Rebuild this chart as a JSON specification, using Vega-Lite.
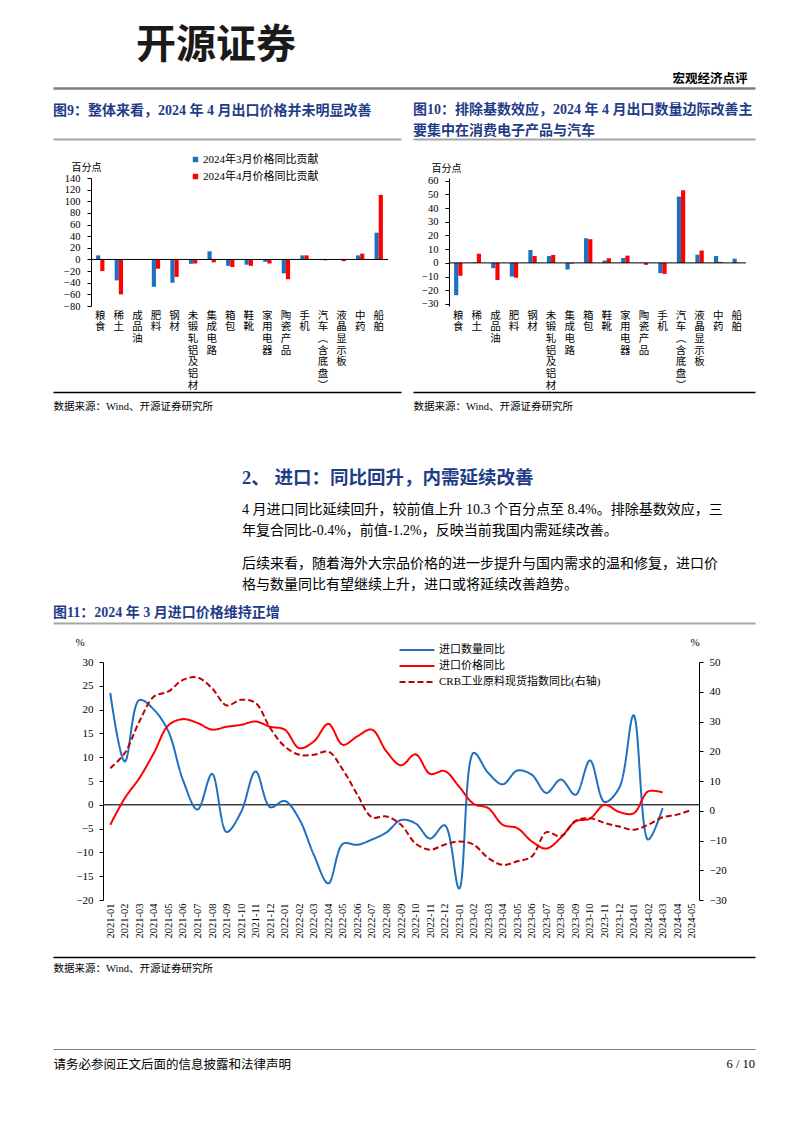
{
  "$schema": "https://vega.github.io/schema/vega-lite/v6.json",
  "background": "white",
  "padding": {"left": 50, "right": 50, "top": 26, "bottom": 10},
  "spacing": 0,
  "datasets": {
    "c9": [
      {"cat": "粮食", "m3": 7, "m4": -20},
      {"cat": "稀土", "m3": -36, "m4": -60},
      {"cat": "成品油", "m3": 0.3, "m4": -0.5},
      {"cat": "肥料", "m3": -47, "m4": -16},
      {"cat": "钢材", "m3": -40, "m4": -30},
      {"cat": "未锻轧铝及铝材", "m3": -7.5, "m4": -7},
      {"cat": "集成电路", "m3": 14, "m4": -5},
      {"cat": "箱包", "m3": -11, "m4": -13},
      {"cat": "鞋靴", "m3": -9, "m4": -11},
      {"cat": "家用电器", "m3": -4, "m4": -7},
      {"cat": "陶瓷产品", "m3": -24, "m4": -34},
      {"cat": "手机", "m3": 7, "m4": 7},
      {"cat": "汽车（含底盘）", "m3": 0.3, "m4": -1.5},
      {"cat": "液晶显示板", "m3": 0.2, "m4": -3},
      {"cat": "中药", "m3": 7, "m4": 10},
      {"cat": "船舶", "m3": 46, "m4": 111}
    ],
    "c10": [
      {"cat": "粮食", "m3": -23.6, "m4": -9.4},
      {"cat": "稀土", "m3": 0.4, "m4": 6.7},
      {"cat": "成品油", "m3": -3.9, "m4": -12.5},
      {"cat": "肥料", "m3": -10, "m4": -10.8},
      {"cat": "钢材", "m3": 9.4, "m4": 5},
      {"cat": "未锻轧铝及铝材", "m3": 5, "m4": 5.8},
      {"cat": "集成电路", "m3": -4.8, "m4": -0.5},
      {"cat": "箱包", "m3": 18, "m4": 17.3},
      {"cat": "鞋靴", "m3": 1.7, "m4": 3.4},
      {"cat": "家用电器", "m3": 3.6, "m4": 5.3},
      {"cat": "陶瓷产品", "m3": 0.2, "m4": -1.4},
      {"cat": "手机", "m3": -7.5, "m4": -8},
      {"cat": "汽车（含底盘）", "m3": 48.4, "m4": 53},
      {"cat": "液晶显示板", "m3": 6, "m4": 9},
      {"cat": "中药", "m3": 5, "m4": 0.7},
      {"cat": "船舶", "m3": 3.1, "m4": 0.2}
    ],
    "imp": [
      {"month": "2021-01", "进口数量同比": 23.5, "进口价格同比": -4.2},
      {"month": "2021-02", "进口数量同比": 9.1, "进口价格同比": 1.4},
      {"month": "2021-03", "进口数量同比": 22, "进口价格同比": 5.6},
      {"month": "2021-04", "进口数量同比": 20, "进口价格同比": 10.9},
      {"month": "2021-05", "进口数量同比": 15.4, "进口价格同比": 16.7},
      {"month": "2021-06", "进口数量同比": 5.2, "进口价格同比": 18},
      {"month": "2021-07", "进口数量同比": -1, "进口价格同比": 17.2},
      {"month": "2021-08", "进口数量同比": 6.5, "进口价格同比": 15.8},
      {"month": "2021-09", "进口数量同比": -5.7, "进口价格同比": 16.4},
      {"month": "2021-10", "进口数量同比": -1.5, "进口价格同比": 16.8},
      {"month": "2021-11", "进口数量同比": 7, "进口价格同比": 17.5},
      {"month": "2021-12", "进口数量同比": -0.5, "进口价格同比": 16.4},
      {"month": "2022-01", "进口数量同比": 0.8, "进口价格同比": 15.8},
      {"month": "2022-02", "进口数量同比": -3, "进口价格同比": 11.9},
      {"month": "2022-03", "进口数量同比": -10.5, "进口价格同比": 13.3},
      {"month": "2022-04", "进口数量同比": -16.5, "进口价格同比": 17},
      {"month": "2022-05", "进口数量同比": -8.2, "进口价格同比": 12.6},
      {"month": "2022-06", "进口数量同比": -8.4, "进口价格同比": 14.4},
      {"month": "2022-07", "进口数量同比": -7.3, "进口价格同比": 15.8},
      {"month": "2022-08", "进口数量同比": -5.8, "进口价格同比": 11.2},
      {"month": "2022-09", "进口数量同比": -3.2, "进口价格同比": 8.3},
      {"month": "2022-10", "进口数量同比": -3.9, "进口价格同比": 10.6},
      {"month": "2022-11", "进口数量同比": -7.1, "进口价格同比": 6.5},
      {"month": "2022-12", "进口数量同比": -4.3, "进口价格同比": 7.1},
      {"month": "2023-01", "进口数量同比": -17.6, "进口价格同比": 3.8},
      {"month": "2023-02", "进口数量同比": 10.9, "进口价格同比": 0.2},
      {"month": "2023-03", "进口数量同比": 6.7, "进口价格同比": -0.7},
      {"month": "2023-04", "进口数量同比": 4.3, "进口价格同比": -4.2},
      {"month": "2023-05", "进口数量同比": 7.2, "进口价格同比": -4.9},
      {"month": "2023-06", "进口数量同比": 6.3, "进口价格同比": -7.7},
      {"month": "2023-07", "进口数量同比": 2.5, "进口价格同比": -9.2},
      {"month": "2023-08", "进口数量同比": 5.3, "进口价格同比": -6.9},
      {"month": "2023-09", "进口数量同比": 2.1, "进口价格同比": -3.5},
      {"month": "2023-10", "进口数量同比": 9.3, "进口价格同比": -2.9},
      {"month": "2023-11", "进口数量同比": 0.6, "进口价格同比": 0},
      {"month": "2023-12", "进口数量同比": 3.5, "进口价格同比": -1.5},
      {"month": "2024-01", "进口数量同比": 18.8, "进口价格同比": -1.8},
      {"month": "2024-02", "进口数量同比": -7.3, "进口价格同比": 2.8},
      {"month": "2024-03", "进口数量同比": -0.7, "进口价格同比": 2.6}
    ],
    "crb": [
      {"month": "2021-01", "CRB工业原料现货指数同比(右轴)": 14.3},
      {"month": "2021-02", "CRB工业原料现货指数同比(右轴)": 19.4},
      {"month": "2021-03", "CRB工业原料现货指数同比(右轴)": 30},
      {"month": "2021-04", "CRB工业原料现货指数同比(右轴)": 38.4},
      {"month": "2021-05", "CRB工业原料现货指数同比(右轴)": 40.1},
      {"month": "2021-06", "CRB工业原料现货指数同比(右轴)": 44},
      {"month": "2021-07", "CRB工业原料现货指数同比(右轴)": 44.8},
      {"month": "2021-08", "CRB工业原料现货指数同比(右轴)": 41.2},
      {"month": "2021-09", "CRB工业原料现货指数同比(右轴)": 35.4},
      {"month": "2021-10", "CRB工业原料现货指数同比(右轴)": 37.3},
      {"month": "2021-11", "CRB工业原料现货指数同比(右轴)": 36.2},
      {"month": "2021-12", "CRB工业原料现货指数同比(右轴)": 27.8},
      {"month": "2022-01", "CRB工业原料现货指数同比(右轴)": 21.6},
      {"month": "2022-02", "CRB工业原料现货指数同比(右轴)": 18.8},
      {"month": "2022-03", "CRB工业原料现货指数同比(右轴)": 18.8},
      {"month": "2022-04", "CRB工业原料现货指数同比(右轴)": 19.9},
      {"month": "2022-05", "CRB工业原料现货指数同比(右轴)": 13.8},
      {"month": "2022-06", "CRB工业原料现货指数同比(右轴)": 5.4},
      {"month": "2022-07", "CRB工业原料现货指数同比(右轴)": -2.2},
      {"month": "2022-08", "CRB工业原料现货指数同比(右轴)": -1.9},
      {"month": "2022-09", "CRB工业原料现货指数同比(右轴)": -4.7},
      {"month": "2022-10", "CRB工业原料现货指数同比(右轴)": -11},
      {"month": "2022-11", "CRB工业原料现货指数同比(右轴)": -13.1},
      {"month": "2022-12", "CRB工业原料现货指数同比(右轴)": -11.4},
      {"month": "2023-01", "CRB工业原料现货指数同比(右轴)": -10.3},
      {"month": "2023-02", "CRB工业原料现货指数同比(右轴)": -11.4},
      {"month": "2023-03", "CRB工业原料现货指数同比(右轴)": -15.9},
      {"month": "2023-04", "CRB工业原料现货指数同比(右轴)": -18.2},
      {"month": "2023-05", "CRB工业原料现货指数同比(右轴)": -17},
      {"month": "2023-06", "CRB工业原料现货指数同比(右轴)": -15.4},
      {"month": "2023-07", "CRB工业原料现货指数同比(右轴)": -7.2},
      {"month": "2023-08", "CRB工业原料现货指数同比(右轴)": -8.6},
      {"month": "2023-09", "CRB工业原料现货指数同比(右轴)": -3.4},
      {"month": "2023-10", "CRB工业原料现货指数同比(右轴)": -2.5},
      {"month": "2023-11", "CRB工业原料现货指数同比(右轴)": -4.1},
      {"month": "2023-12", "CRB工业原料现货指数同比(右轴)": -5.3},
      {"month": "2024-01", "CRB工业原料现货指数同比(右轴)": -6.4},
      {"month": "2024-02", "CRB工业原料现货指数同比(右轴)": -4.7},
      {"month": "2024-03", "CRB工业原料现货指数同比(右轴)": -2.2},
      {"month": "2024-04", "CRB工业原料现货指数同比(右轴)": -1.3},
      {"month": "2024-05", "CRB工业原料现货指数同比(右轴)": 0.3}
    ]
  },
  "vconcat": [
    {
      "width": 702, "height": 15,
      "data": {"values": [{}]},
      "mark": {"type": "rule", "strokeOpacity": 0},
      "encoding": {"x": {"datum": 0, "type": "quantitative", "scale": {"domain": [0, 1]},
        "axis": {"orient": "top", "domainColor": "#7F7F7F", "domainWidth": 2.5, "ticks": false, "labels": false, "grid": false,
          "title": "宏观经济点评", "titleX": 694, "titleAlign": "right", "titleFontSize": 12.5, "titleFontWeight": "bold", "titleFont": "Noto Sans CJK SC", "titleColor": "#000", "titlePadding": 3}}},
      "title": {"text": "开源证券", "fontSize": 40, "color": "#1a1a1a", "dx": 83, "offset": 6, "font": "Noto Sans CJK SC", "fontWeight": "bold"}
    },
    {
      "bounds": "flush", "spacing": 12,
      "hconcat": [
        {
          "width": 348, "height": 23,
          "data": {"values": [{}]},
          "mark": {"type": "rule", "strokeOpacity": 0},
          "encoding": {"x": {"datum": 0, "type": "quantitative", "scale": {"domain": [0, 1]},
            "axis": {"orient": "top", "domainColor": "#A6A6A6", "domainWidth": 2, "ticks": false, "labels": false, "grid": false, "title": null}}},
          "title": {"text": "图9：整体来看，2024 年 4 月出口价格并未明显改善", "fontSize": 14, "offset": 21}
        },
        {
          "width": 342, "height": 23,
          "data": {"values": [{}]},
          "mark": {"type": "rule", "strokeOpacity": 0},
          "encoding": {"x": {"datum": 0, "type": "quantitative", "scale": {"domain": [0, 1]},
            "axis": {"orient": "top", "domainColor": "#A6A6A6", "domainWidth": 2, "ticks": false, "labels": false, "grid": false, "title": null}}},
          "title": {"text": ["图10：排除基数效应，2024 年 4 月出口数量边际改善主", "要集中在消费电子产品与汽车"], "fontSize": 14, "lineHeight": 21, "offset": 1}
        }
      ]
    },
    {
      "bounds": "flush", "spacing": 0,
      "hconcat": [
        {"width": 38, "height": 213, "data": {"values": [{}]}, "mark": {"type": "point", "opacity": 0}, "encoding": {}},
        {
          "width": 297, "height": 128,
          "layer": [
            {
              "data": {"name": "c9"},
              "transform": [{"fold": ["m3", "m4"], "as": ["series", "value"]}],
              "mark": {"type": "bar"},
              "encoding": {
                "x": {"field": "cat", "type": "nominal", "sort": null, "scale": {"paddingInner": 0.55, "paddingOuter": 0.275},
                  "axis": {"title": null, "domain": false, "ticks": false, "labelAngle": 0, "labelAlign": "center", "labelBaseline": "top", "labelPadding": 4, "labelFontSize": 10.5, "labelFont": "Noto Sans CJK SC", "labelLineHeight": 11.7, "labelOverlap": false,
                    "labelExpr": "split(replace(replace(datum.label,'（','︵'),'）','︶'),'')"}},
                "xOffset": {"field": "series", "type": "nominal"},
                "y": {"field": "value", "type": "quantitative", "scale": {"domain": [-80, 140], "nice": false},
                  "axis": {"values": [-80, -60, -40, -20, 0, 20, 40, 60, 80, 100, 120, 140], "tickCount": 30, "labelOverlap": {"signal": "false"}, "title": "百分点", "titleAngle": 0, "titleAlign": "left", "titleBaseline": "middle", "titleX": -20, "titleY": -11, "titleFontSize": 10, "titleFont": "Noto Sans CJK SC", "labelFontSize": 10.5, "tickSize": 4, "labelPadding": 7}},
                "color": {"field": "series", "type": "nominal", "scale": {"domain": ["m3", "m4"], "range": ["#1F70C1", "#FF0000"]},
                  "legend": {"orient": "none", "legendX": 137, "legendY": 66, "title": null, "symbolType": "square", "symbolSize": 30, "labelFontSize": 11, "rowPadding": 5, "labelOffset": 2, "padding": 0, "labelLimit": 300,
                    "labelExpr": "datum.label === 'm3' ? '2024年3月价格同比贡献' : '2024年4月价格同比贡献'"}}
              }
            },
            {"data": {"values": [{}]}, "mark": {"type": "rule", "color": "#000", "strokeWidth": 1}, "encoding": {"y": {"datum": 0, "type": "quantitative"}}}
          ]
        },
        {"width": 61, "height": 213, "data": {"values": [{}]}, "mark": {"type": "point", "opacity": 0}, "encoding": {}},
        {
          "width": 297, "height": 128,
          "layer": [
            {
              "data": {"name": "c10"},
              "transform": [{"fold": ["m3", "m4"], "as": ["series10", "value"]}],
              "mark": {"type": "bar"},
              "encoding": {
                "x": {"field": "cat", "type": "nominal", "sort": null, "scale": {"paddingInner": 0.55, "paddingOuter": 0.275},
                  "axis": {"title": null, "domain": false, "ticks": false, "labelAngle": 0, "labelAlign": "center", "labelBaseline": "top", "labelPadding": 4, "labelFontSize": 10.5, "labelFont": "Noto Sans CJK SC", "labelLineHeight": 11.7, "labelOverlap": false,
                    "labelExpr": "split(replace(replace(datum.label,'（','︵'),'）','︶'),'')"}},
                "xOffset": {"field": "series10", "type": "nominal"},
                "y": {"field": "value", "type": "quantitative", "scale": {"domain": [-31.46, 61.97], "nice": false},
                  "axis": {"values": [-30, -20, -10, 0, 10, 20, 30, 40, 50, 60], "tickCount": 30, "labelOverlap": {"signal": "false"}, "title": "百分点", "titleAngle": 0, "titleAlign": "left", "titleBaseline": "middle", "titleX": -18, "titleY": -10, "titleFontSize": 10, "titleFont": "Noto Sans CJK SC", "labelFontSize": 10.5, "tickSize": 4, "labelPadding": 7}},
                "fill": {"field": "series10", "type": "nominal", "scale": {"domain": ["m3", "m4"], "range": ["#1F70C1", "#FF0000"]},
                  "legend": {"orient": "none", "legendX": 447, "legendY": 69.3, "title": null, "symbolType": "square", "symbolSize": 30, "labelFontSize": 11, "rowPadding": 8.4, "labelOffset": 2, "padding": 0, "labelLimit": 300,
                    "labelExpr": "datum.label === 'm3' ? '2024年3月数量三年复合同比贡献' : '2024年4月数量三年复合同比贡献'"}}
              }
            },
            {"data": {"values": [{}]}, "mark": {"type": "rule", "color": "#000", "strokeWidth": 1}, "encoding": {"y": {"datum": 0, "type": "quantitative"}}}
          ]
        }
      ]
    },
    {
      "bounds": "flush", "spacing": 12,
      "hconcat": [
        {
          "width": 348, "height": 1,
          "data": {"values": [{}]},
          "mark": {"type": "rule", "strokeOpacity": 0},
          "encoding": {"x": {"datum": 0, "type": "quantitative", "scale": {"domain": [0, 1]},
            "axis": {"orient": "bottom", "domainColor": "#000", "domainWidth": 1.5, "ticks": false, "labels": false, "grid": false,
              "title": "数据来源：Wind、开源证券研究所", "titleX": 0, "titleAlign": "left", "titleFontSize": 10.5, "titleFontWeight": "normal", "titleColor": "#000", "titlePadding": 9.5}}}
        },
        {
          "width": 342, "height": 1,
          "data": {"values": [{}]},
          "mark": {"type": "rule", "strokeOpacity": 0},
          "encoding": {"x": {"datum": 0, "type": "quantitative", "scale": {"domain": [0, 1]},
            "axis": {"orient": "bottom", "domainColor": "#000", "domainWidth": 1.5, "ticks": false, "labels": false, "grid": false,
              "title": "数据来源：Wind、开源证券研究所", "titleX": 0, "titleAlign": "left", "titleFontSize": 10.5, "titleFontWeight": "normal", "titleColor": "#000", "titlePadding": 9.5}}}
        }
      ]
    },
    {"width": 1, "height": 55.2, "data": {"values": [{}]}, "mark": {"type": "point", "opacity": 0}, "encoding": {}},
    {
      "width": 702, "height": 18.7,
      "data": {"values": [{}]}, "mark": {"type": "point", "opacity": 0}, "encoding": {},
      "title": {"text": "2、 进口：同比回升，内需延续改善", "fontSize": 18.5, "offset": 0, "dx": 189,
        "subtitle": ["　　4 月进口同比延续回升，较前值上升 10.3 个百分点至 8.4%。排除基数效应，三", "年复合同比-0.4%，前值-1.2%，反映当前我国内需延续改善。"],
        "subtitleFont": "Liberation Serif, Noto Sans CJK SC", "subtitleFontSize": 14, "subtitleColor": "#000", "subtitleLineHeight": 21, "subtitlePadding": 16}
    },
    {
      "width": 702, "height": 13.7,
      "data": {"values": [{}]}, "mark": {"type": "point", "opacity": 0}, "encoding": {},
      "title": {"text": ["　　后续来看，随着海外大宗品价格的进一步提升与国内需求的温和修复，进口价", "格与数量同比有望继续上升，进口或将延续改善趋势。"],
        "font": "Liberation Serif, Noto Sans CJK SC", "fontSize": 14, "fontWeight": "normal", "color": "#000", "lineHeight": 21, "offset": 0, "dx": 189}
    },
    {
      "width": 702, "height": 13,
      "data": {"values": [{}]},
      "mark": {"type": "rule", "strokeOpacity": 0},
      "encoding": {"x": {"datum": 0, "type": "quantitative", "scale": {"domain": [0, 1]},
        "axis": {"orient": "top", "domainColor": "#A6A6A6", "domainWidth": 2, "ticks": false, "labels": false, "grid": false, "title": null}}},
      "title": {"text": "图11：2024 年 3 月进口价格维持正增", "fontSize": 14, "offset": 3}
    },
    {
      "bounds": "flush", "spacing": 0,
      "hconcat": [
        {"width": 50, "height": 294, "data": {"values": [{}]}, "mark": {"type": "point", "opacity": 0}, "encoding": {}},
        {
          "width": 596, "height": 238,
          "layer": [
            {
              "layer": [
                {"data": {"values": [{}]}, "mark": {"type": "rule", "color": "#404040", "strokeWidth": 1.5}, "encoding": {"y": {"datum": 0, "type": "quantitative"}}},
                {
                  "data": {"name": "imp"},
                  "transform": [{"fold": ["进口数量同比", "进口价格同比"], "as": ["series", "value"]}],
                  "mark": {"type": "line", "interpolate": "catmull-rom", "strokeWidth": 2},
                  "encoding": {
                    "x": {"field": "month", "type": "ordinal", "scale": {"type": "point", "padding": 0.5},
                      "axis": {"title": null, "labelAngle": -90, "labelFontSize": 10.5, "labelPadding": 3, "ticks": false, "domain": false, "labelOverlap": false}},
                    "y": {"field": "value", "type": "quantitative", "scale": {"domain": [-20, 30], "nice": false},
                      "axis": {"orient": "left", "values": [-20, -15, -10, -5, 0, 5, 10, 15, 20, 25, 30], "tickCount": 30, "labelOverlap": {"signal": "false"}, "title": "%", "titleAngle": 0, "titleAlign": "left", "titleBaseline": "middle", "titleX": -28, "titleY": -20, "titleFont": "Liberation Serif", "titleFontSize": 11, "labelFontSize": 11, "tickSize": 4, "labelPadding": 6}},
                    "stroke": {"field": "series", "type": "nominal", "scale": {"domain": ["进口数量同比", "进口价格同比", "CRB工业原料现货指数同比(右轴)"], "range": ["#1F70C1", "#FF0000", "#C00000"]},
                      "legend": {"orient": "none", "legendX": 357, "legendY": 555, "title": null, "symbolType": "M-3,0H3", "symbolSize": 136, "symbolStrokeWidth": 2, "labelFontSize": 11, "rowPadding": 4, "labelOffset": 15, "padding": 0, "labelLimit": 300}},
                    "strokeDash": {"field": "series", "type": "nominal", "scale": {"domain": ["进口数量同比", "进口价格同比", "CRB工业原料现货指数同比(右轴)"], "range": [[1, 0], [1, 0], [6, 3]]},
                      "legend": {"orient": "none", "legendX": 357, "legendY": 555, "title": null, "symbolType": "M-3,0H3", "symbolSize": 136, "symbolStrokeWidth": 2, "labelFontSize": 11, "rowPadding": 4, "labelOffset": 15, "padding": 0, "labelLimit": 300}}
                  }
                }
              ]
            },
            {
              "data": {"name": "crb"},
              "transform": [{"fold": ["CRB工业原料现货指数同比(右轴)"], "as": ["series", "value"]}],
              "mark": {"type": "line", "interpolate": "catmull-rom", "strokeWidth": 2},
              "encoding": {
                "x": {"field": "month", "type": "ordinal", "scale": {"type": "point", "padding": 0.5},
                  "axis": {"title": null, "labelAngle": -90, "labelFontSize": 10.5, "labelPadding": 3, "ticks": false, "domain": false, "labelOverlap": false}},
                "y": {"field": "value", "type": "quantitative", "scale": {"domain": [-30, 50], "nice": false},
                  "axis": {"orient": "right", "values": [-30, -20, -10, 0, 10, 20, 30, 40, 50], "tickCount": 30, "labelOverlap": {"signal": "false"}, "title": "%", "titleAngle": 0, "titleAlign": "left", "titleBaseline": "middle", "titleX": -9, "titleY": -20, "titleFont": "Liberation Serif", "titleFontSize": 11, "labelFontSize": 11, "tickSize": 4, "labelPadding": 6}},
                "stroke": {"field": "series", "type": "nominal", "scale": {"domain": ["进口数量同比", "进口价格同比", "CRB工业原料现货指数同比(右轴)"], "range": ["#1F70C1", "#FF0000", "#C00000"]},
                  "legend": {"orient": "none", "legendX": 357, "legendY": 555, "title": null, "symbolType": "M-3,0H3", "symbolSize": 136, "symbolStrokeWidth": 2, "labelFontSize": 11, "rowPadding": 4, "labelOffset": 15, "padding": 0, "labelLimit": 300}},
                "strokeDash": {"field": "series", "type": "nominal", "scale": {"domain": ["进口数量同比", "进口价格同比", "CRB工业原料现货指数同比(右轴)"], "range": [[1, 0], [1, 0], [6, 3]]},
                  "legend": {"orient": "none", "legendX": 357, "legendY": 555, "title": null, "symbolType": "M-3,0H3", "symbolSize": 136, "symbolStrokeWidth": 2, "labelFontSize": 11, "rowPadding": 4, "labelOffset": 15, "padding": 0, "labelLimit": 300}}
              }
            }
          ],
          "resolve": {"scale": {"y": "independent"}}
        }
      ]
    },
    {
      "width": 702, "height": 1,
      "data": {"values": [{}]},
      "mark": {"type": "rule", "strokeOpacity": 0},
      "encoding": {"x": {"datum": 0, "type": "quantitative", "scale": {"domain": [0, 1]},
        "axis": {"orient": "bottom", "domainColor": "#000", "domainWidth": 1.5, "ticks": false, "labels": false, "grid": false,
          "title": "数据来源：Wind、开源证券研究所", "titleX": 0, "titleAlign": "left", "titleFontSize": 10.5, "titleFontWeight": "normal", "titleColor": "#000", "titlePadding": 6.7}}}
    },
    {"width": 1, "height": 72.8, "data": {"values": [{}]}, "mark": {"type": "point", "opacity": 0}, "encoding": {}},
    {
      "width": 702, "height": 1,
      "data": {"values": [{}]},
      "mark": {"type": "rule", "strokeOpacity": 0},
      "encoding": {"x": {"datum": 0, "type": "quantitative", "scale": {"domain": [0, 1]},
        "axis": {"orient": "bottom", "domainColor": "#7F7F7F", "domainWidth": 1, "ticks": false, "labels": false, "grid": false,
          "title": "请务必参阅正文后面的信息披露和法律声明", "titleX": 0, "titleAlign": "left", "titleFontSize": 12.5, "titleFontWeight": "normal", "titleColor": "#000", "titlePadding": 9}}},
      "title": {"text": "6 / 10", "orient": "bottom", "anchor": "end", "font": "Liberation Serif", "fontSize": 12.5, "fontWeight": "normal", "color": "#000", "offset": -13}
    }
  ],
  "config": {
    "view": {"stroke": null},
    "font": "Liberation Serif, Noto Sans CJK SC",
    "axis": {"grid": false, "labelColor": "#000", "tickColor": "#000", "domainColor": "#000", "labelFont": "Liberation Serif, Noto Sans CJK SC", "titleFont": "Liberation Serif, Noto Sans CJK SC", "titleColor": "#000", "titleFontWeight": "normal"},
    "legend": {"labelFont": "Liberation Serif, Noto Sans CJK SC", "labelColor": "#000"},
    "title": {"font": "Liberation Serif, Noto Sans CJK SC", "color": "#1F3C88", "fontWeight": "bold", "anchor": "start", "frame": "group"}
  }
}
